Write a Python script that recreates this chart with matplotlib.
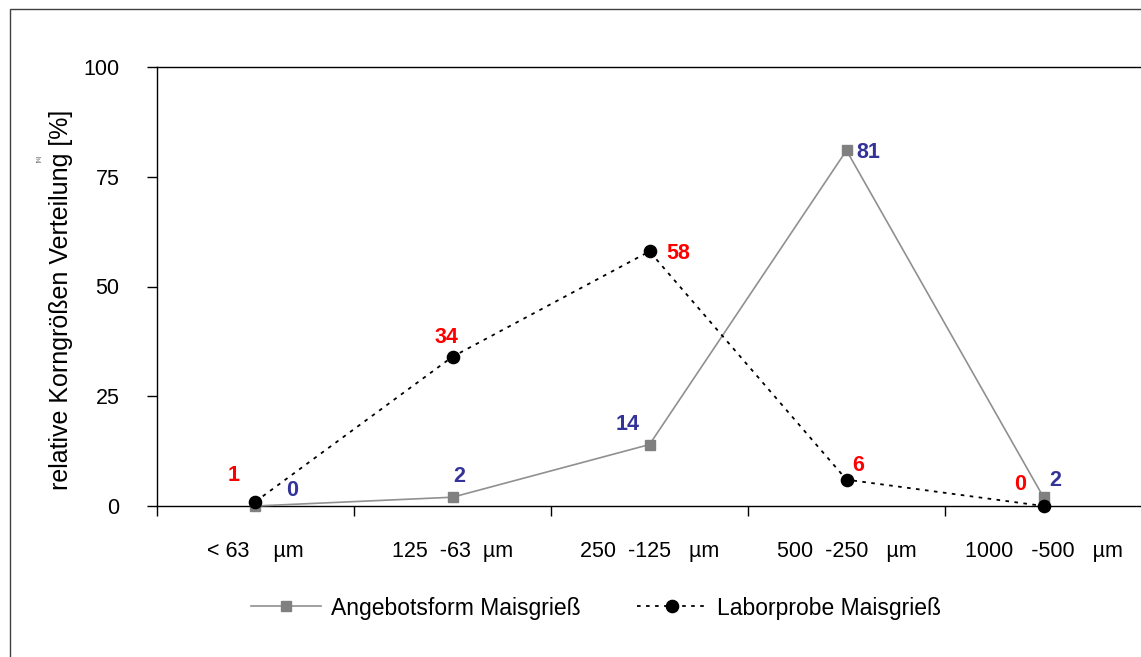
import matplotlib
matplotlib.use("Agg")
import matplotlib.pyplot as plt
from matplotlib.patches import Rectangle
import numpy as np

plt.rcParams['font.family'] = ['Liberation Sans', 'DejaVu Sans']

categories = ["< 63    µm", "125  -63  µm", "250  -125   µm", "500  -250   µm", "1000   -500   µm"]
angebotsform = [0, 2, 14, 81, 2]
laborprobe = [1, 34, 58, 6, 0]
series_names = ["Angebotsform Maisgrieß", "Laborprobe Maisgrieß"]
y_ticks = [0, 25, 50, 75, 100]

W, H = 1141, 657
fig = plt.figure(figsize=(W / 100, H / 100), dpi=100)

# outer frame of the chart area
fig.patches.append(Rectangle((10 / W, -0.1), 1.2, (H - 9) / H + 0.1,
                             transform=fig.transFigure, fill=False,
                             edgecolor='#404040', linewidth=1.0))

ax = fig.add_axes([157 / W, 1 - 506 / H, (1142 - 157) / W, (506 - 67) / H])
x = np.arange(len(categories))
ax.set_xlim(-0.5, len(categories) - 0.5)
ax.set_ylim(0, 100)

gray_line, = ax.plot(x, angebotsform, color='#909090', lw=1.2, marker='s',
                     markersize=7, markerfacecolor='#808080', markeredgecolor='#808080',
                     label=series_names[0], zorder=3, clip_on=False)
black_line, = ax.plot(x, laborprobe, color='black', lw=1.3, linestyle=(0, (2, 3)),
                      marker='o', markersize=8.8, markerfacecolor='black',
                      markeredgecolor='black', label=series_names[1], zorder=4, clip_on=False)

# value labels
blue = '#333399'
red = '#ff0000'
blue_offsets = [(37, 15), (7, 21), (-22, 20), (22, -2), (12, 17)]
red_offsets = [(-22, 26), (-6, 19), (29, -2), (12, 14), (-23, 22)]
for xi, v, (dx, dy) in zip(x, angebotsform, blue_offsets):
    ax.annotate(f"{v}", (xi, v), xytext=(dx * 0.72, dy * 0.72), textcoords='offset points',
                ha='center', va='center', color=blue, fontsize=15.5, fontweight='bold')
for xi, v, (dx, dy) in zip(x, laborprobe, red_offsets):
    ax.annotate(f"{v}", (xi, v), xytext=(dx * 0.72, dy * 0.72), textcoords='offset points',
                ha='center', va='center', color=red, fontsize=15.5, fontweight='bold')

# axes styling
for side in ['left', 'bottom', 'top']:
    ax.spines[side].set_color('black')
    ax.spines[side].set_linewidth(1.0)
ax.spines['right'].set_visible(False)

ax.set_yticks(y_ticks)
ax.set_yticklabels([str(t) for t in y_ticks], fontsize=15.5)
ax.tick_params(axis='y', direction='out', length=7, width=1, pad=20)

ax.set_xticks(x)
ax.set_xticklabels(categories, fontsize=15.5)
ax.set_xticks(np.arange(-0.5, len(categories)), minor=True)
ax.tick_params(axis='x', which='major', length=0, pad=25)
ax.tick_params(axis='x', which='minor', direction='out', length=7, width=1)

ax.set_ylabel("relative Korngrößen Verteilung [%]", fontsize=18)
ax.yaxis.set_label_coords(-0.085, 0.47)
fig.text(39 / W, 1 - 158 / H, "[%]", fontsize=3.5, rotation=90,
         ha='center', va='center', color='#404040')

fig.legend(handles=[gray_line, black_line], loc='center',
           bbox_to_anchor=(596 / W, 1 - 608 / H), ncol=2, frameon=False,
           fontsize=16.5, handlelength=3.05, columnspacing=2.5, handletextpad=0.4)

fig.savefig("out.png", dpi=100)
